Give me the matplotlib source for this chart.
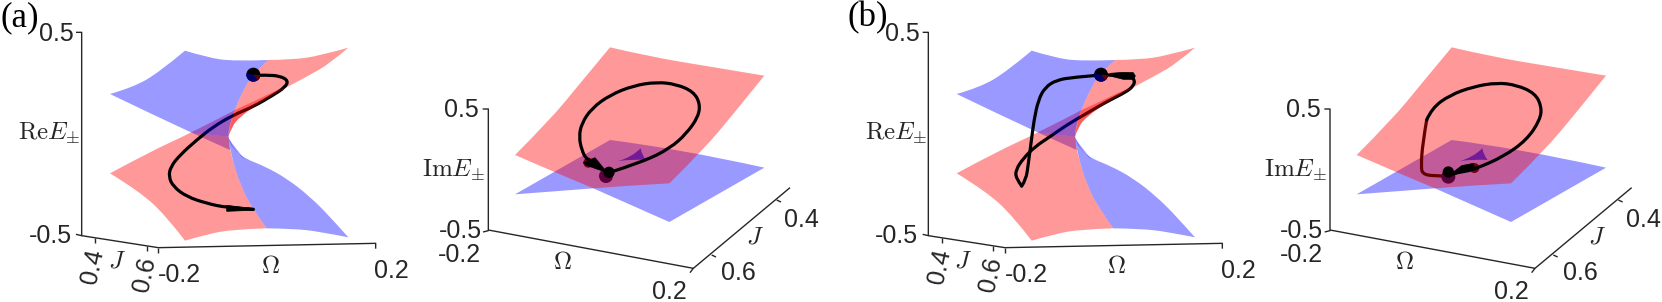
import numpy as np
import matplotlib
matplotlib.use("Agg")
import matplotlib.pyplot as plt
from matplotlib.patches import Polygon, Circle, Wedge, PathPatch
from matplotlib.path import Path

plt.rcParams['font.family'] = ['Liberation Sans', 'DejaVu Sans']
plt.rcParams['mathtext.fontset'] = 'cm'

# ---- traced edges of the Re E sheets (each sheet: list of edges, corners kept sharp)
re_blue_upper = [[(330,282),(400,262),(480,215),(555,152)],
                 [(555,152),(620,172),(700,184),(805,180)],
                 [(805,180),(765,215),(735,260),(705,325),(688,375),(685,410)],
                 [(685,410),(575,398)],
                 [(575,398),(450,340),(330,282)]]
re_blue_wedge = [[(575,398),(685,410)],
                 [(685,410),(690,450)],
                 [(690,450),(575,398)]]
re_blue_lower = [[(685,412),(702,452),(740,478),(790,497),(860,535),(930,590),(990,650),(1045,712)],
                 [(1045,712),(960,695),(880,686),(800,685)],
                 [(800,685),(760,630),(720,555),(692,460),(684,412)]]
re_blue_fold = [[(686,415),(692,445),(735,478)],
                [(735,478),(708,448),(686,415)]]
re_red_upper = [[(1045,143),(960,167),(880,179),(805,180)],
                [(805,180),(765,215),(735,260),(705,325),(688,375),(685,410)],
                [(685,410),(695,380),(720,350),(790,300),(860,262)],
                [(860,262),(930,225),(990,190),(1045,143)]]
re_red_lower = [[(330,520),(450,455),(575,398),(705,330)],
                [(705,330),(688,375),(684,412),(692,460),(720,555),(760,630),(800,685)],
                [(800,685),(700,688),(620,703),(555,722)],
                [(555,722),(500,650),(420,575),(330,520)]]
re_red_fold = [[(705,330),(760,305),(835,268),(860,262)],
               [(860,262),(790,300),(720,350),(695,380),(685,410)],
               [(685,410),(688,375),(705,330)]]

# ---- traced edges of the Im E sheets
im_blue = [[(600,360),(800,385),(1063,443)],
           [(1063,443),(778,606)],
           [(778,606),(550,505)],
           [(550,505),(315,523)],
           [(315,523),(600,360)]]
im_red = [[(315,405),(420,300),(510,190),(600,82)],
          [(600,82),(720,110),(900,140),(1063,167)],
          [(1063,167),(980,270),(880,390),(778,490)],
          [(778,490),(650,497),(550,505)],
          [(550,505),(430,455),(315,405)]]
im_swallowtail = [[(625,423),(665,412),(692,385)],
                  [(692,385),(695,405),(708,420)],
                  [(708,420),(670,417),(625,423)]]

# ---- trajectories
traj_a_re = [(762,226),(800,225),(840,228),(865,242),(855,262),(820,285),(760,320),(700,345),(640,380),(590,420),(540,465),(512,500),(506,530),(520,560),(560,590),(620,610),(680,623),(760,628)]
traj_a_im = [(597,458),(700,425),(780,385),(830,340),(865,290),(870,250),(850,215),(800,193),(740,186),(670,197),(600,225),(545,265),(515,310),(507,350),(515,390),(530,420),(565,440)]
traj_b_re_out = [(763,226),(790,224),(850,228),(865,240),(860,258),(840,275),(780,305),(720,340),(660,375),(610,410),(565,440),(530,475),(507,510),(508,535),(525,558)]
traj_b_re_back = [(525,558),(538,540),(545,490),(553,430),(562,360),(575,300),(595,262),(630,240),(680,232),(750,226)]
traj_b_im = [(592,462),(640,455),(675,445),(755,410),(825,360),(865,300),(870,260),(850,220),(795,195),(735,188),(665,200),(595,225),(540,265),(525,300),(513,370),(508,440),(513,462),(545,468),(590,468)]

arrow_a_re = [(680,616),(730,622),(762,625),(762,631),(730,632),(680,634)]
arrow_a_im = [(520,428),(555,413),(582,446),(600,460),(560,447),(530,436)]
arrow_b_re = [(790,220),(830,217),(860,218),(866,228),(860,238),(830,238),(790,228)]
arrow_b_im = [(600,460),(630,437),(665,430),(668,442),(640,452),(605,466)]

# ---- tick labels / axis labels
re_label = r'$\mathrm{Re}E_{\pm}$'
im_label = r'$\mathrm{Im}E_{\pm}$'
e_ticks = ['0.5', '-0.5']
omega_ticks = ['-0.2', '0.2']
j_ticks = ['0.4', '0.6']

INK = '#262626'
FS = 18
LFS = 18
W, H = 1662, 302
fig = plt.figure(figsize=(W/100, H/100), dpi=100)


def panel(left_px, top_px, w_px, h_px):
    ax = fig.add_axes([left_px/W, 1-(top_px+h_px)/H, w_px/W, h_px/H])
    ax.set_xlim(0, w_px*3)
    ax.set_ylim(h_px*3, 0)
    ax.axis('off')
    ax.patch.set_alpha(0)
    return ax


def edge_path(edges):
    verts, codes = [], []
    for n, e in enumerate(edges):
        p = np.asarray(e, float)
        if n == 0:
            verts.append(p[0]); codes.append(Path.MOVETO)
        if len(p) == 2:
            verts.append(p[1]); codes.append(Path.LINETO)
            continue
        for i in range(1, len(p)-1):
            end = p[-1] if i == len(p)-2 else (p[i]+p[i+1])/2
            verts += [p[i], end]
            codes += [Path.CURVE3, Path.CURVE3]
    verts.append(verts[0]); codes.append(Path.CLOSEPOLY)
    return Path(verts, codes)


def sheet(ax, edges, color, z, alpha=0.4):
    ax.add_patch(PathPatch(edge_path(edges), fc=color, ec='none', alpha=alpha, zorder=z))


def smooth(ax, pts, z=2, lw=2.3, color='black'):
    p = np.asarray(pts, float)
    verts = [p[0]]
    codes = [Path.MOVETO]
    for i in range(1, len(p)-1):
        end = p[-1] if i == len(p)-2 else (p[i]+p[i+1])/2
        verts += [p[i], end]
        codes += [Path.CURVE3, Path.CURVE3]
    ax.add_patch(PathPatch(Path(verts, codes), fc='none', ec=color, lw=lw,
                           capstyle='round', joinstyle='round', zorder=z))


def draw_axis(ax, pts, lw=1.0):
    x, y = zip(*pts)
    ax.plot(x, y, color=INK, lw=lw, solid_capstyle='butt', zorder=1)


def t(ax, x, y, s, fs=FS, rot=0, ha='center', va='center', **kw):
    ax.text(x, y, s, fontsize=fs, rotation=rot, ha=ha, va=va, color=INK,
            rotation_mode='anchor', zorder=8, **kw)


def re_panel(left, tag):
    ax = panel(left, 0, 420, 302)
    draw_axis(ax, [(228,97),(245,97),(245,707),(228,703)])
    draw_axis(ax, [(245,707),(475,743),(1127,730),(1127,746)])
    draw_axis(ax, [(475,743),(475,758)])
    draw_axis(ax, [(285,713),(285,729)])
    draw_axis(ax, [(440,737),(440,754)])
    sheet(ax, re_blue_wedge, (0,0,1), 1.1)
    sheet(ax, re_blue_lower, (0,0,1), 1.1)
    sheet(ax, re_blue_fold, (0,0,1), 1.1)
    sheet(ax, re_red_lower, (1,0,0), 1.2)
    sheet(ax, re_red_upper, (1,0,0), 1.2)
    sheet(ax, re_blue_upper, (0,0,1), 3)
    sheet(ax, re_red_fold, (1,0,0), 3)
    t(ax, 168, 101, e_ticks[0])
    t(ax, 150, 708, e_ticks[1])
    t(ax, 538, 826, omega_ticks[0])
    t(ax, 1175, 812, omega_ticks[1])
    t(ax, 278, 798, j_ticks[0], rot=78)
    t(ax, 433, 824, j_ticks[1], rot=78)
    t(ax, 350, 782, r'$J$', fs=LFS)
    t(ax, 810, 797, r'$\Omega$', fs=LFS)
    t(ax, 243, 400, re_label, fs=LFS, ha='right')
    ax.text(3, 54, tag, fontsize=25, family='Liberation Serif', ha='left', va='center', color='black', zorder=8)
    return ax


def im_panel(left):
    ax = panel(left, 20, 420, 282)
    draw_axis(ax, [(218,267),(235,267),(235,632),(219,636)])
    draw_axis(ax, [(235,630),(850,745),(840,758)])
    draw_axis(ax, [(850,745),(1140,503)])
    draw_axis(ax, [(905,705),(918,711)])
    draw_axis(ax, [(1100,540),(1113,546)])
    sheet(ax, im_blue, (0,0,1), 1.1)
    sheet(ax, im_red, (1,0,0), 1.2)
    sheet(ax, im_swallowtail, (0.45,0.1,0.6), 1.3, alpha=1)
    t(ax, 155, 270, e_ticks[0])
    t(ax, 150, 633, e_ticks[1])
    t(ax, 148, 706, omega_ticks[0])
    t(ax, 778, 815, omega_ticks[1])
    t(ax, 985, 760, j_ticks[1])
    t(ax, 1175, 600, j_ticks[0])
    t(ax, 1035, 648, r'$J$', fs=LFS)
    t(ax, 458, 725, r'$\Omega$', fs=LFS)
    t(ax, 225, 450, im_label, fs=LFS, ha='right')
    return ax


def dot_re(ax, c):
    ax.add_patch(Circle(c, 21, fc='black', ec='none', zorder=5))
    ax.add_patch(Wedge(c, 21, 5, 190, fc=(0,0,0.42), ec='none', zorder=5.1))
    ax.add_patch(Wedge(c, 21, 5, 50, fc=(0.4,0,0), ec='none', zorder=5.2))


def dot_im(ax, c_low, c_top, c_far):
    ax.add_patch(Circle(c_far, 15, fc=(0.45,0,0.05), ec='none', zorder=3))
    ax.add_patch(Circle(c_low, 21, fc=(0.36,0,0.24), ec='none', zorder=3))
    ax.add_patch(Circle(c_top, 17, fc='black', ec='none', zorder=5))


def head(ax, pts):
    ax.add_patch(Polygon(pts, fc='black', ec='black', lw=0.5, zorder=4))


a1 = re_panel(0, '(a)')
smooth(a1, traj_a_re, z=2)
head(a1, arrow_a_re)
dot_re(a1, (760,224))

a2 = im_panel(410)
smooth(a2, traj_a_im, z=3.5)
head(a2, arrow_a_im)
dot_im(a2, (588,468), (597,457), (535,428))

b1 = re_panel(846.67, '(b)')
smooth(b1, traj_b_re_out, z=2)
smooth(b1, traj_b_re_back, z=3.5)
head(b1, arrow_b_re)
dot_re(b1, (763,224))

b2 = im_panel(1251.67)
smooth(b2, traj_b_im[:14], z=3.5)
smooth(b2, traj_b_im[13:], z=1.15, color='black')
head(b2, arrow_b_im)
dot_im(b2, (590,470), (590,456), (668,444))

fig.savefig('out.png', dpi=100, facecolor='white')
